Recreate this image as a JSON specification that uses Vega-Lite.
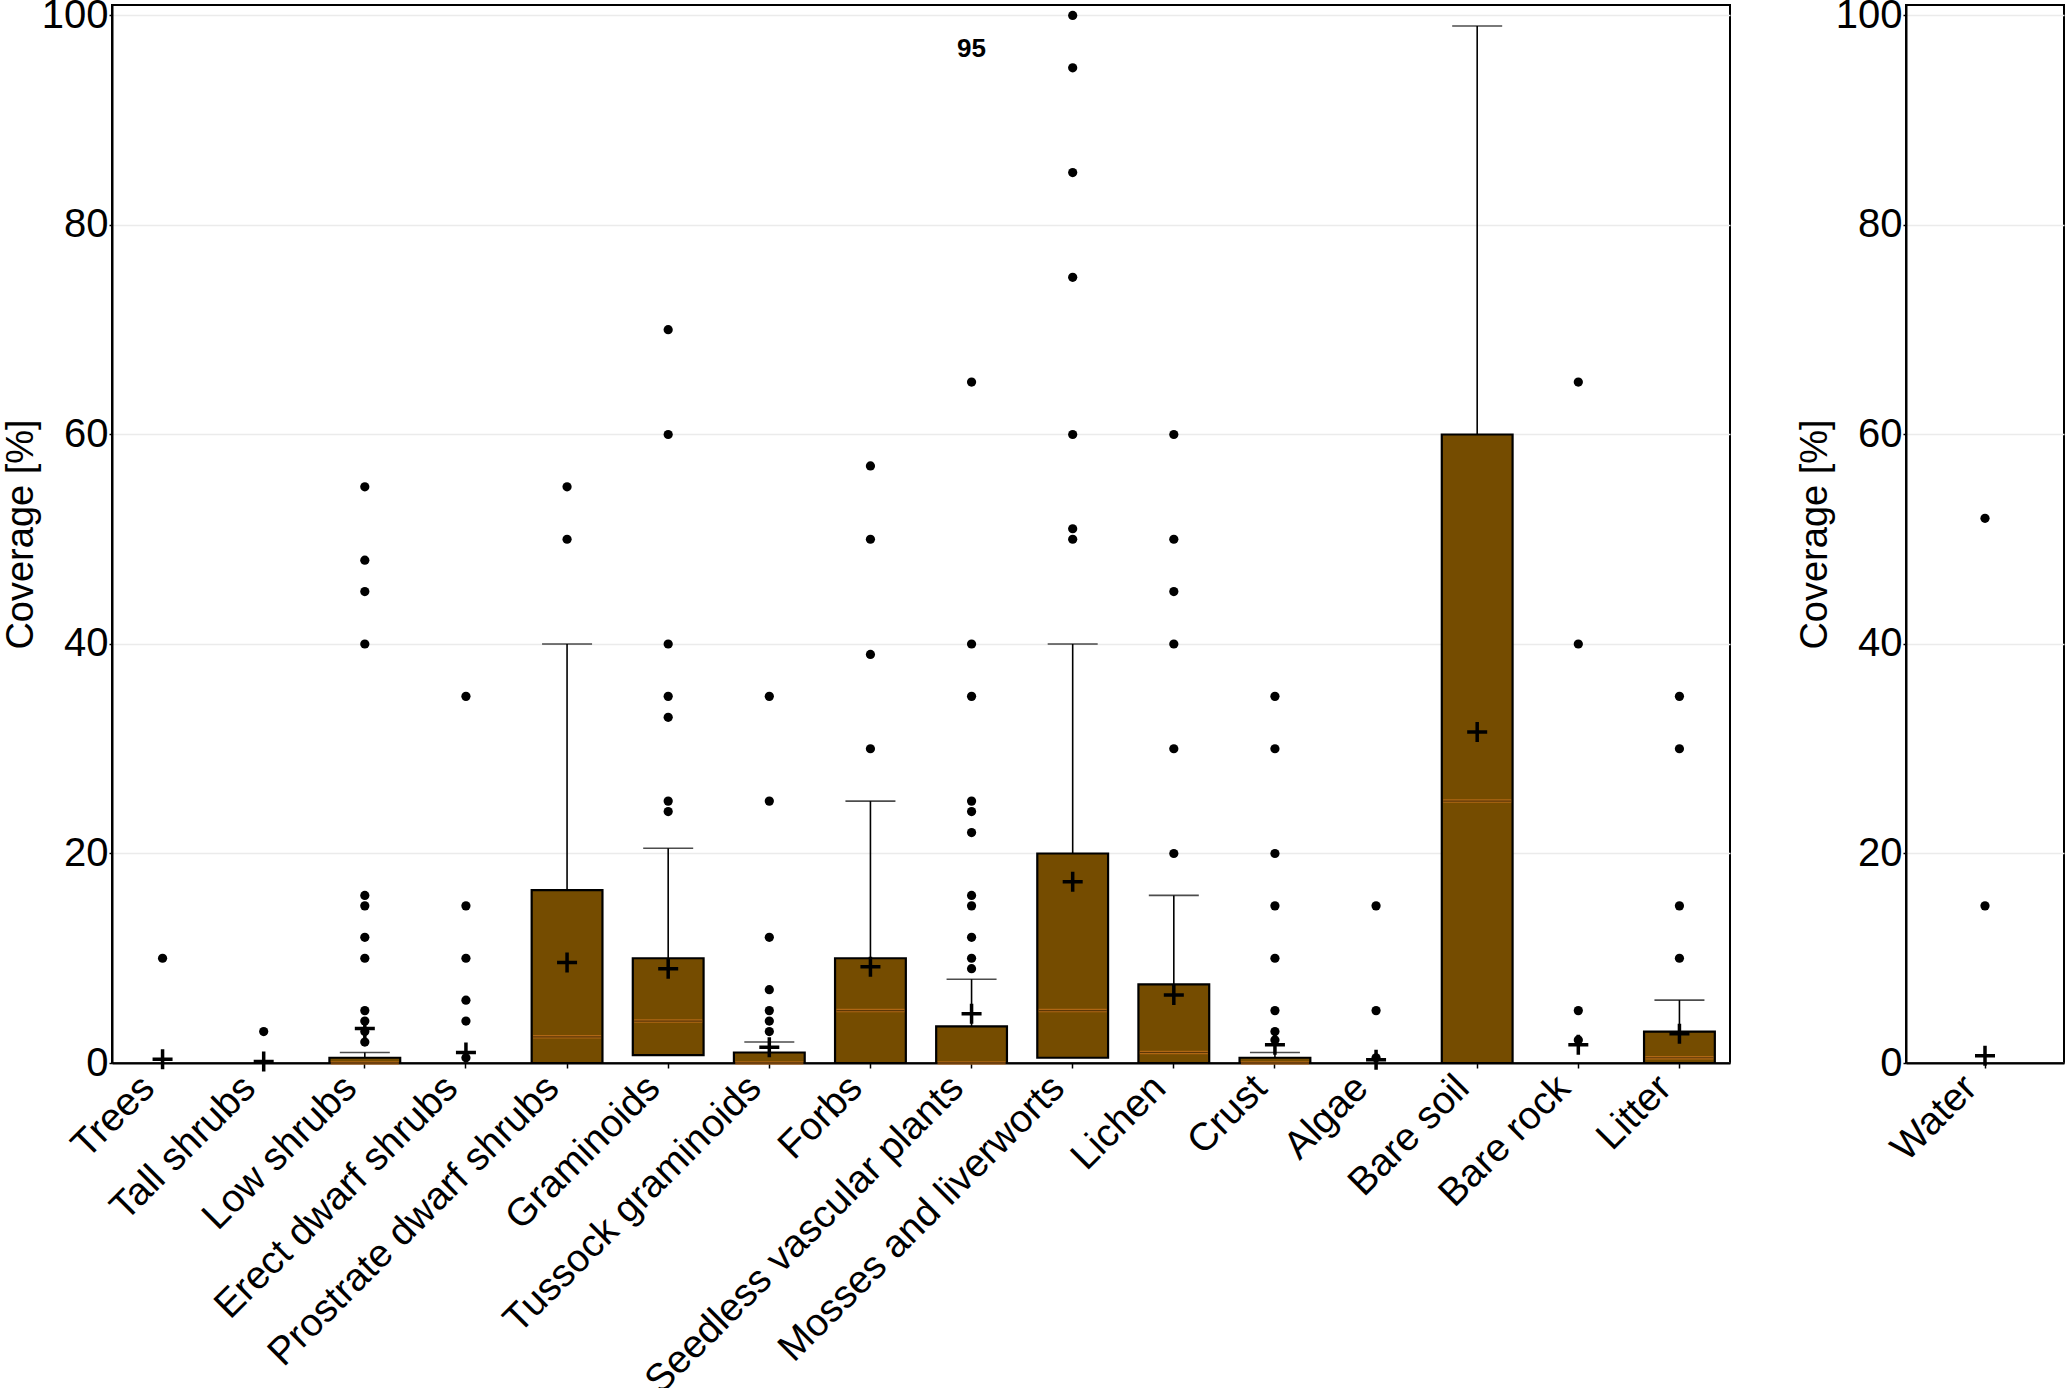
{
  "$schema": "https://vega.github.io/schema/vega-lite/v6.json",
  "padding": {"left": 1, "top": -6, "right": 2, "bottom": 0},
  "background": "white",
  "config": {
    "font": "Liberation Sans",
    "view": {"stroke": "black", "strokeWidth": 2},
    "axis": {
      "domainColor": "black",
      "domainWidth": 2,
      "tickColor": "black",
      "tickWidth": 1.5,
      "labelColor": "black",
      "titleColor": "black",
      "gridColor": "#ebebeb",
      "gridWidth": 1.5,
      "labelLimit": 0
    },
    "axisY": {
      "labelFontSize": 40,
      "labelPadding": 1,
      "tickSize": 3,
      "titleFontSize": 38,
      "titleFontWeight": "normal",
      "titlePadding": 1,
      "tickCount": 5,
      "grid": true
    },
    "axisX": {
      "labelFontSize": 39,
      "labelAngle": -45,
      "labelPadding": 0,
      "labelOffset": -28,
      "tickSize": 5,
      "grid": false,
      "title": null
    },
    "concat": {"spacing": 64}
  },
  "datasets": {
    "boxes": [
      {"category": "Trees", "q1": 0, "med": 0, "q3": 0, "hi": 0, "mean": 0.35},
      {"category": "Tall shrubs", "q1": 0, "med": 0, "q3": 0, "hi": 0, "mean": 0.15},
      {"category": "Low shrubs", "q1": 0, "med": 0, "q3": 0.5, "hi": 1.0, "mean": 3.3},
      {"category": "Erect dwarf shrubs", "q1": 0, "med": 0, "q3": 0, "hi": 0, "mean": 1.0},
      {"category": "Prostrate dwarf shrubs", "q1": 0, "med": 2.5, "q3": 16.5, "hi": 40, "mean": 9.6},
      {"category": "Graminoids", "q1": 0.75, "med": 4, "q3": 10, "hi": 20.5, "mean": 9.0},
      {"category": "Tussock graminoids", "q1": 0, "med": 0, "q3": 1, "hi": 2, "mean": 1.5},
      {"category": "Forbs", "q1": 0, "med": 5, "q3": 10, "hi": 25, "mean": 9.2},
      {"category": "Seedless vascular plants", "q1": 0, "med": 0, "q3": 3.5, "hi": 8, "mean": 4.7},
      {"category": "Mosses and liverworts", "q1": 0.5, "med": 5, "q3": 20, "hi": 40, "mean": 17.3},
      {"category": "Lichen", "q1": 0, "med": 1, "q3": 7.5, "hi": 16, "mean": 6.5},
      {"category": "Crust", "q1": 0, "med": 0, "q3": 0.5, "hi": 1, "mean": 1.75},
      {"category": "Algae", "q1": 0, "med": 0, "q3": 0, "hi": 0, "mean": 0.3},
      {"category": "Bare soil", "q1": 0, "med": 25, "q3": 60, "hi": 99, "mean": 31.6},
      {"category": "Bare rock", "q1": 0, "med": 0, "q3": 0, "hi": 0, "mean": 1.75},
      {"category": "Litter", "q1": 0, "med": 0.5, "q3": 3, "hi": 6, "mean": 2.8},
      {"category": "Water", "q1": 0, "med": 0, "q3": 0, "hi": 0, "mean": 0.7}
    ],
    "outliers": [
      {"category": "Trees", "value": 10},
      {"category": "Tall shrubs", "value": 3},
      {"category": "Low shrubs", "value": 55},
      {"category": "Low shrubs", "value": 48},
      {"category": "Low shrubs", "value": 45},
      {"category": "Low shrubs", "value": 40},
      {"category": "Low shrubs", "value": 16},
      {"category": "Low shrubs", "value": 15},
      {"category": "Low shrubs", "value": 12},
      {"category": "Low shrubs", "value": 10},
      {"category": "Low shrubs", "value": 5},
      {"category": "Low shrubs", "value": 4},
      {"category": "Low shrubs", "value": 3},
      {"category": "Low shrubs", "value": 2},
      {"category": "Erect dwarf shrubs", "value": 35},
      {"category": "Erect dwarf shrubs", "value": 15},
      {"category": "Erect dwarf shrubs", "value": 10},
      {"category": "Erect dwarf shrubs", "value": 6},
      {"category": "Erect dwarf shrubs", "value": 4},
      {"category": "Erect dwarf shrubs", "value": 0.5},
      {"category": "Prostrate dwarf shrubs", "value": 55},
      {"category": "Prostrate dwarf shrubs", "value": 50},
      {"category": "Graminoids", "value": 70},
      {"category": "Graminoids", "value": 60},
      {"category": "Graminoids", "value": 40},
      {"category": "Graminoids", "value": 35},
      {"category": "Graminoids", "value": 33},
      {"category": "Graminoids", "value": 25},
      {"category": "Graminoids", "value": 24},
      {"category": "Tussock graminoids", "value": 35},
      {"category": "Tussock graminoids", "value": 25},
      {"category": "Tussock graminoids", "value": 12},
      {"category": "Tussock graminoids", "value": 7},
      {"category": "Tussock graminoids", "value": 5},
      {"category": "Tussock graminoids", "value": 4},
      {"category": "Tussock graminoids", "value": 3},
      {"category": "Forbs", "value": 57},
      {"category": "Forbs", "value": 50},
      {"category": "Forbs", "value": 39},
      {"category": "Forbs", "value": 30},
      {"category": "Seedless vascular plants", "value": 65},
      {"category": "Seedless vascular plants", "value": 40},
      {"category": "Seedless vascular plants", "value": 35},
      {"category": "Seedless vascular plants", "value": 25},
      {"category": "Seedless vascular plants", "value": 24},
      {"category": "Seedless vascular plants", "value": 22},
      {"category": "Seedless vascular plants", "value": 16},
      {"category": "Seedless vascular plants", "value": 15},
      {"category": "Seedless vascular plants", "value": 12},
      {"category": "Seedless vascular plants", "value": 10},
      {"category": "Seedless vascular plants", "value": 9},
      {"category": "Mosses and liverworts", "value": 100},
      {"category": "Mosses and liverworts", "value": 95},
      {"category": "Mosses and liverworts", "value": 85},
      {"category": "Mosses and liverworts", "value": 75},
      {"category": "Mosses and liverworts", "value": 60},
      {"category": "Mosses and liverworts", "value": 51},
      {"category": "Mosses and liverworts", "value": 50},
      {"category": "Lichen", "value": 60},
      {"category": "Lichen", "value": 50},
      {"category": "Lichen", "value": 45},
      {"category": "Lichen", "value": 40},
      {"category": "Lichen", "value": 30},
      {"category": "Lichen", "value": 20},
      {"category": "Crust", "value": 35},
      {"category": "Crust", "value": 30},
      {"category": "Crust", "value": 20},
      {"category": "Crust", "value": 15},
      {"category": "Crust", "value": 10},
      {"category": "Crust", "value": 5},
      {"category": "Crust", "value": 3},
      {"category": "Crust", "value": 2.2},
      {"category": "Algae", "value": 15},
      {"category": "Algae", "value": 5},
      {"category": "Algae", "value": 0.5},
      {"category": "Bare rock", "value": 65},
      {"category": "Bare rock", "value": 40},
      {"category": "Bare rock", "value": 5},
      {"category": "Bare rock", "value": 2.2},
      {"category": "Litter", "value": 35},
      {"category": "Litter", "value": 30},
      {"category": "Litter", "value": 15},
      {"category": "Litter", "value": 10},
      {"category": "Water", "value": 52},
      {"category": "Water", "value": 15}
    ],
    "notes": [
      {"category": "Seedless vascular plants", "value": 96.8, "label": "95"}
    ]
  },
  "hconcat": [
    {
      "width": 1618,
      "height": 1058,
      "encoding": {
        "x": {
          "field": "category",
          "type": "nominal",
          "scale": {
            "type": "band",
            "paddingInner": 0,
            "paddingOuter": 0,
            "domain": ["Trees", "Tall shrubs", "Low shrubs", "Erect dwarf shrubs", "Prostrate dwarf shrubs", "Graminoids", "Tussock graminoids", "Forbs", "Seedless vascular plants", "Mosses and liverworts", "Lichen", "Crust", "Algae", "Bare soil", "Bare rock", "Litter"]
          },
          "axis": {"title": null}
        }
      },
      "layer": [
        {
          "data": {"name": "boxes"},
          "transform": [{"filter": "datum.category != 'Water' && datum.hi > datum.q3"}],
          "mark": {"type": "rule", "color": "black", "strokeWidth": 1.6},
          "encoding": {
            "y": {"field": "q3", "type": "quantitative", "scale": {"domain": [0, 101], "nice": false}, "axis": {"title": "Coverage [%]"}},
            "y2": {"field": "hi"}
          }
        },
        {
          "data": {"name": "boxes"},
          "transform": [{"filter": "datum.category != 'Water' && datum.hi > datum.q3"}],
          "mark": {"type": "tick", "color": "black", "size": 50, "thickness": 1.6},
          "encoding": {
            "y": {"field": "hi", "type": "quantitative", "scale": {"domain": [0, 101], "nice": false}, "axis": {"title": "Coverage [%]"}}
          }
        },
        {
          "data": {"name": "boxes"},
          "transform": [{"filter": "datum.category != 'Water' && datum.q3 > 0"}],
          "mark": {"type": "bar", "fill": "#754c00", "stroke": "black", "strokeWidth": 2.2, "width": {"band": 0.7}},
          "encoding": {
            "y": {"field": "q1", "type": "quantitative", "scale": {"domain": [0, 101], "nice": false}, "axis": {"title": "Coverage [%]"}},
            "y2": {"field": "q3"}
          }
        },
        {
          "data": {"name": "boxes"},
          "transform": [{"filter": "datum.category != 'Water' && datum.q3 > 0"}],
          "mark": {"type": "tick", "color": "#c8741e", "size": 68, "thickness": 3.5},
          "encoding": {
            "y": {"field": "med", "type": "quantitative", "scale": {"domain": [0, 101], "nice": false}, "axis": {"title": "Coverage [%]"}}
          }
        },
        {
          "data": {"name": "boxes"},
          "transform": [{"filter": "datum.category != 'Water' && datum.q3 > 0"}],
          "mark": {"type": "tick", "color": "#3a2400", "size": 68, "thickness": 1.2},
          "encoding": {
            "y": {"field": "med", "type": "quantitative", "scale": {"domain": [0, 101], "nice": false}, "axis": {"title": "Coverage [%]"}}
          }
        },
        {
          "data": {"name": "outliers"},
          "transform": [{"filter": "datum.category != 'Water'"}],
          "mark": {"type": "point", "shape": "circle", "filled": true, "color": "black", "size": 85, "opacity": 1},
          "encoding": {
            "y": {"field": "value", "type": "quantitative", "scale": {"domain": [0, 101], "nice": false}, "axis": {"title": "Coverage [%]"}}
          }
        },
        {
          "data": {"name": "boxes"},
          "transform": [{"filter": "datum.category != 'Water'"}],
          "mark": {"type": "point", "shape": "M-1,0L1,0M0,-1L0,1", "filled": false, "stroke": "black", "strokeWidth": 3.5, "size": 400, "opacity": 1},
          "encoding": {
            "y": {"field": "mean", "type": "quantitative", "scale": {"domain": [0, 101], "nice": false}, "axis": {"title": "Coverage [%]"}}
          }
        },
        {
          "data": {"name": "notes"},
          "mark": {"type": "text", "fontSize": 26, "fontWeight": "bold", "color": "black", "align": "center", "baseline": "middle"},
          "encoding": {
            "y": {"field": "value", "type": "quantitative", "scale": {"domain": [0, 101], "nice": false}, "axis": {"title": "Coverage [%]"}},
            "text": {"field": "label"}
          }
        }
      ]
    },
    {
      "width": 158,
      "height": 1058,
      "encoding": {
        "x": {
          "field": "category",
          "type": "nominal",
          "scale": {"type": "band", "paddingInner": 0, "paddingOuter": 0, "domain": ["Water"]},
          "axis": {"title": null}
        }
      },
      "layer": [
        {
          "data": {"name": "outliers"},
          "transform": [{"filter": "datum.category == 'Water'"}],
          "mark": {"type": "point", "shape": "circle", "filled": true, "color": "black", "size": 85, "opacity": 1},
          "encoding": {
            "y": {"field": "value", "type": "quantitative", "scale": {"domain": [0, 101], "nice": false}, "axis": {"title": "Coverage [%]"}}
          }
        },
        {
          "data": {"name": "boxes"},
          "transform": [{"filter": "datum.category == 'Water'"}],
          "mark": {"type": "point", "shape": "M-1,0L1,0M0,-1L0,1", "filled": false, "stroke": "black", "strokeWidth": 3.5, "size": 400, "opacity": 1},
          "encoding": {
            "y": {"field": "mean", "type": "quantitative", "scale": {"domain": [0, 101], "nice": false}, "axis": {"title": "Coverage [%]"}}
          }
        }
      ]
    }
  ]
}
